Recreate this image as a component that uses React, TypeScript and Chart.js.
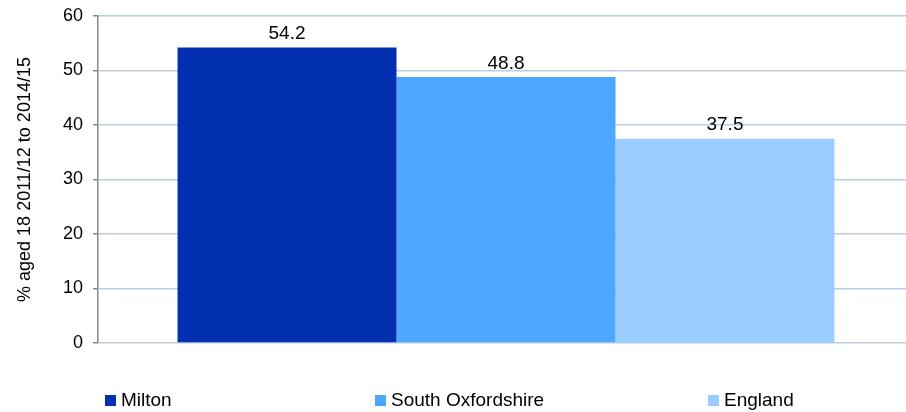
import React, { useEffect, useRef } from "react";
import { Chart, registerables } from "chart.js";

Chart.register(...registerables);

const categories = [""];
const seriesNames = ["Milton", "South Oxfordshire", "England"];
const seriesValues = [[54.2], [48.8], [37.5]];
const seriesColors = ["#0230b0", "#4da6ff", "#99ccff"];
const legendLefts = [105, 375, 708];
const yTitle = "% aged 18 2011/12 to 2014/15";
const FONT = "'Liberation Sans', Arial, sans-serif";

const labelPlugin = {
  id: "barLabels",
  afterDatasetsDraw(chart: any) {
    const ctx = chart.ctx;
    ctx.save();
    ctx.font = `19px ${FONT}`;
    ctx.fillStyle = "#000";
    ctx.textAlign = "center";
    ctx.textBaseline = "bottom";
    chart.data.datasets.forEach((ds: any, i: number) => {
      const meta = chart.getDatasetMeta(i);
      meta.data.forEach((bar: any, j: number) => {
        ctx.fillText(ds.data[j].toFixed(1), bar.x, bar.y - 4);
      });
    });
    ctx.restore();
  },
};

export default function App() {
  const ref = useRef<HTMLCanvasElement>(null);
  useEffect(() => {
    document.body.style.margin = "0";
    const chart = new Chart(ref.current!, {
      type: "bar",
      data: {
        labels: categories,
        datasets: seriesNames.map((name, i) => ({
          label: name,
          data: seriesValues[i],
          backgroundColor: seriesColors[i],
          borderWidth: 0,
          categoryPercentage: 0.805,
          barPercentage: 1,
        })),
      },
      options: {
        animation: false,
        responsive: false,
        maintainAspectRatio: false,
        layout: { padding: { top: 16, bottom: 61, right: 0, left: 0 } },
        plugins: { legend: { display: false }, tooltip: { enabled: false } },
        scales: {
          x: {
            ticks: { display: false },
            grid: { display: false },
            border: { display: false },
          },
          y: {
            min: 0,
            max: 60,
            ticks: { stepSize: 10, color: "#000", font: { family: FONT, size: 18 }, padding: 10 },
            grid: { color: "#b9cde5", lineWidth: 1.5, tickColor: "#888", tickLength: 5 },
            border: { color: "#888", width: 1.5 },
            title: {
              display: true,
              text: yTitle,
              color: "#000",
              font: { family: FONT, size: 18 },
              padding: { top: 14, bottom: 0 },
            },
            afterFit(scale: any) {
              scale.width = 98;
              scale.paddingTop = 0;
            },
          },
        },
      },
      plugins: [labelPlugin],
    });
    return () => chart.destroy();
  }, []);
  return (
    <div style={{ position: "absolute", left: 0, top: 0, width: 906, height: 412, overflow: "hidden", fontFamily: FONT }}>
      <canvas ref={ref} width={914} height={412} style={{ display: "block" }} />
      {seriesNames.map((name, i) => (
        <div
          key={name}
          style={{ position: "absolute", left: legendLefts[i], top: 388, display: "flex", alignItems: "center", fontSize: 19, lineHeight: "24px", color: "#000", whiteSpace: "nowrap" }}
        >
          <span style={{ display: "inline-block", width: 11, height: 11, background: seriesColors[i], marginRight: 5 }} />
          {name}
        </div>
      ))}
    </div>
  );
}
